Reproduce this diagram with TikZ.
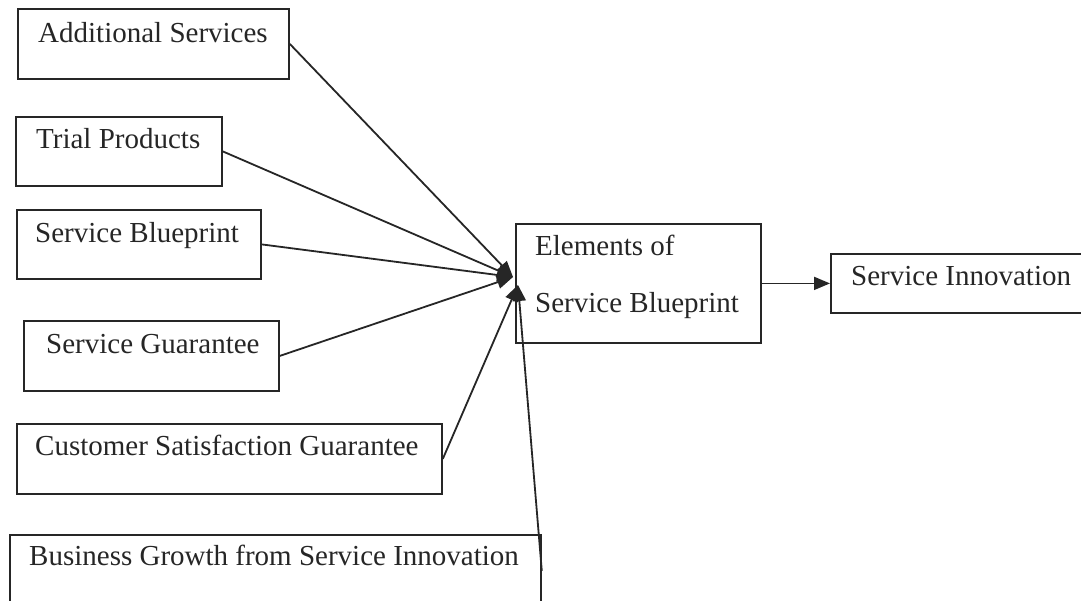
\documentclass[tikz,border=0pt]{standalone}
\usepackage{fontspec}
\setmainfont{Liberation Serif}
\usetikzlibrary{arrows.meta}
\begin{document}
\begin{tikzpicture}[x=1pt,y=-1pt,
  box/.style={draw=black!85, line width=1.8pt, rectangle, inner sep=0pt, anchor=north west},
  lbl/.style={anchor=base west, inner sep=0pt, text=black!85, font=\fontsize{29}{34}\selectfont},
  conn/.style={draw=black!85, line width=1.8pt, -{Triangle[length=16pt,width=13pt]}}]
\useasboundingbox (0,0) rectangle (1081,600);
\fill[white] (0,0) rectangle (1081,600);
% boxes
\node[box, minimum width=271pt, minimum height=70pt] (as) at (17,8) {};
\node[box, minimum width=206pt, minimum height=69pt] (tp) at (15,116) {};
\node[box, minimum width=244pt, minimum height=69pt] (sb) at (16,209) {};
\node[box, minimum width=255pt, minimum height=70pt] (sg) at (23,320) {};
\node[box, minimum width=425pt, minimum height=70pt] (cs) at (16,423) {};
\node[box, minimum width=531pt, minimum height=72pt] (bg) at (9,534) {};
\node[box, minimum width=245pt, minimum height=119pt] (el) at (515,223) {};
\node[box, minimum width=270pt, minimum height=59pt] (si) at (830,253) {};
% labels
\node[lbl] (tas) at (38,42) {Additional Services};
\node[lbl] (ttp) at (36,148) {Trial Products};
\node[lbl] (tsb) at (35,242) {Service Blueprint};
\node[lbl] (tsg) at (46,353) {Service Guarantee};
\node[lbl] (tcs) at (35,455) {Customer Satisfaction Guarantee};
\node[lbl] (tbg) at (29,565) {Business Growth from Service Innovation};
\node[lbl] (tel1) at (535,255) {Elements of};
\node[lbl] (tel2) at (535,312) {Service Blueprint};
\node[lbl] (tsi) at (851,285) {Service Innovation};
% connectors
\coordinate (c1) at (513,277);
\coordinate (c2) at (518,285);
\draw[conn] (as.east) -- (c1);
\draw[conn] (tp.east) -- (c1);
\draw[conn] (sb.east) -- (c1);
\draw[conn] (sg.east) -- (c1);
\draw[conn] (cs.east) -- (c2);
\draw[conn] (bg.east) -- (c2);
\draw[conn] (el.east) -- (si.west);
\end{tikzpicture}
\end{document}
